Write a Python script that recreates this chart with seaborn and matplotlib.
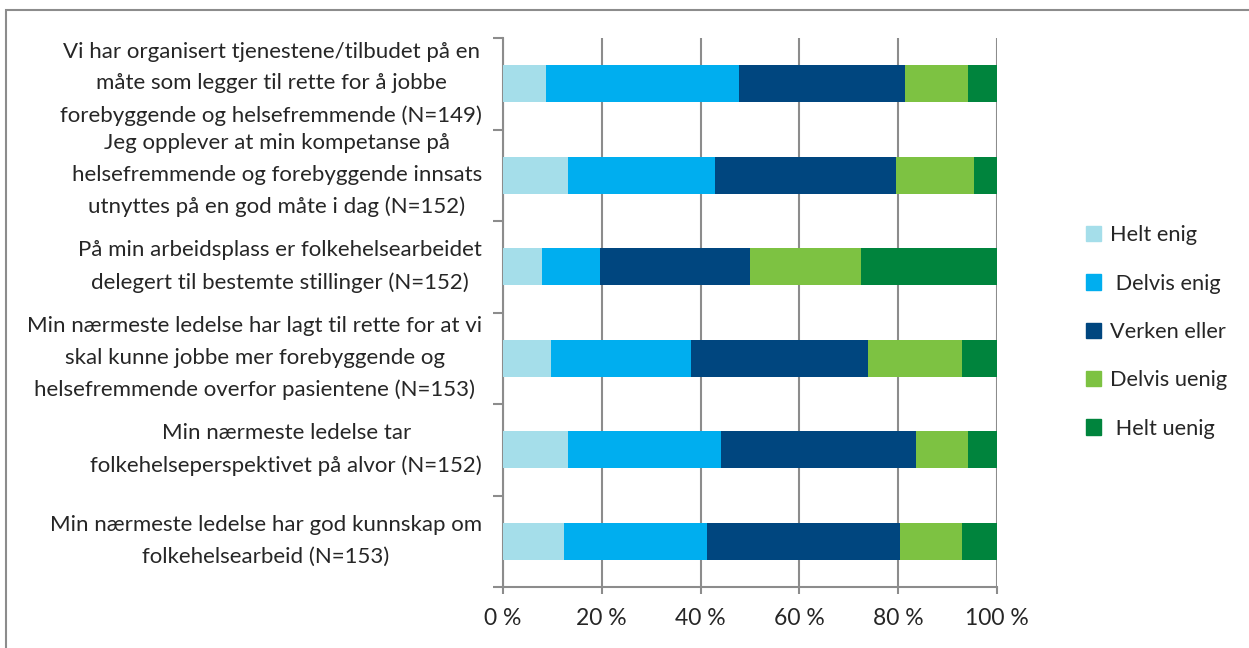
import matplotlib
matplotlib.use("Agg")
import matplotlib.pyplot as plt
import matplotlib.patches as mpatches
import numpy as np
import pandas as pd
import seaborn as sns

questions = [
    "Vi har organisert tjenestene/tilbudet på en\nmåte som legger til rette for å jobbe\nforebyggende og helsefremmende (N=149)",
    "Jeg opplever at min kompetanse på\nhelsefremmende og forebyggende innsats\nutnyttes på en god måte i dag (N=152)",
    "På min arbeidsplass er folkehelsearbeidet\ndelegert til bestemte stillinger (N=152)",
    "Min nærmeste ledelse har lagt til rette for at vi\nskal kunne jobbe mer forebyggende og\nhelsefremmende overfor pasientene (N=153)",
    "Min nærmeste ledelse tar\nfolkehelseperspektivet på alvor (N=152)",
    "Min nærmeste ledelse har god kunnskap om\nfolkehelsearbeid (N=153)",
]

helt_enig = [8.7, 13.1, 7.9, 9.8, 13.1, 12.3]
delvis_enig = [39.0, 29.8, 11.8, 28.2, 31.0, 28.9]
verken = [33.6, 36.7, 30.2, 35.9, 39.5, 39.2]
delvis_uenig = [12.8, 15.8, 22.5, 19.0, 10.6, 12.5]
helt_uenig = [5.9, 4.6, 27.6, 7.1, 5.8, 7.1]

answer_labels = ["Helt enig", " Delvis enig", "Verken eller", "Delvis uenig", " Helt uenig"]
colors = ["#A5DEEA", "#00AEEF", "#00467F", "#7DC242", "#00843D"]
x_ticks = [0, 20, 40, 60, 80, 100]
x_ticklabels = ["0 %", "20 %", "40 %", "60 %", "80 %", "100 %"]


def main():
    sns.set_theme(style="white")
    plt.rcParams["font.family"] = ["Lato", "DejaVu Sans"]
    grey = "#8C8C8C"

    df = pd.DataFrame(
        {
            "question": questions,
            "helt_enig": helt_enig,
            "delvis_enig": delvis_enig,
            "verken": verken,
            "delvis_uenig": delvis_uenig,
            "helt_uenig": helt_uenig,
        }
    )
    cols = ["helt_enig", "delvis_enig", "verken", "delvis_uenig", "helt_uenig"]
    cum = df[cols].cumsum(axis=1)
    cum["question"] = df["question"]

    fig = plt.figure(figsize=(12.49, 6.48), dpi=100)
    ax = fig.add_axes([503 / 1249, 1 - 587 / 648, 494 / 1249, 549 / 648])

    # draw cumulative totals back to front so each segment shows
    for col, color in reversed(list(zip(cols, colors))):
        sns.barplot(
            data=cum, x=col, y="question", order=questions, color=color,
            saturation=1, width=0.4, orient="h", ax=ax, linewidth=0, zorder=3,
        )

    ax.set_xlim(0, 100)
    ax.set_ylim(5.5, -0.5)
    ax.set_xlabel("")
    ax.set_ylabel("")
    ax.set_xticks(x_ticks)
    ax.set_xticklabels(x_ticklabels, fontsize=16.5)
    ax.xaxis.grid(True, color=grey, linewidth=1.5, zorder=0)
    ax.set_axisbelow(True)
    ax.tick_params(axis="x", bottom=True, length=5, width=1.5, color=grey, pad=10)
    ax.tick_params(axis="y", which="major", length=0, pad=15, labelsize=16)
    ax.set_yticks(np.arange(-0.5, 6, 1), minor=True)
    ax.tick_params(axis="y", which="minor", left=True, length=7, width=1.5, color=grey)
    for t in ax.get_yticklabels():
        t.set_multialignment("center")
        t.set_verticalalignment("center")
        t.set_linespacing(1.72)

    for side in ["top", "right"]:
        ax.spines[side].set_visible(False)
    for side in ["left", "bottom"]:
        ax.spines[side].set_color(grey)
        ax.spines[side].set_linewidth(1.5)

    handles = [mpatches.Patch(color=c, label=l) for c, l in zip(colors, answer_labels)]
    fig.legend(
        handles=handles, loc="center left", bbox_to_anchor=(1066 / 1249, 1 - 332 / 648),
        frameon=False, fontsize=15.7, handlelength=0.7, handleheight=0.7,
        handletextpad=0.4, labelspacing=1.3,
    )

    fig.add_artist(
        mpatches.Rectangle(
            (6 / 1249, -0.5), 2, 0.5 + 1 - 10 / 648, transform=fig.transFigure,
            fill=False, edgecolor=grey, linewidth=1.5,
        )
    )

    fig.savefig("out.png", dpi=100)


if __name__ == "__main__":
    main()
